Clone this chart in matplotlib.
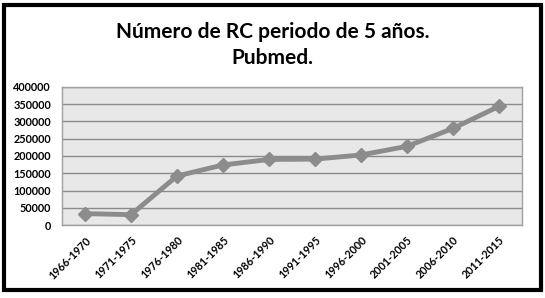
import matplotlib
matplotlib.use("Agg")
import matplotlib.pyplot as plt
from matplotlib.patches import Rectangle

categories = ["1966-1970", "1971-1975", "1976-1980", "1981-1985", "1986-1990",
              "1991-1995", "1996-2000", "2001-2005", "2006-2010", "2011-2015"]
values = [33000, 30000, 142000, 174000, 190000, 191000, 203000, 228000, 280000, 344000]
yticks = [0, 50000, 100000, 150000, 200000, 250000, 300000, 350000, 400000]

plt.rcParams['font.family'] = ['Lato', 'DejaVu Sans']

W, H = 545, 298
fig = plt.figure(figsize=(W/100, H/100), dpi=100)
fig.patch.set_facecolor('white')

# black frame
fig.add_artist(Rectangle((3.5/W, 8/H), (W-8)/W, (H-13)/H, transform=fig.transFigure,
                         fill=False, edgecolor='black', linewidth=3))

ax = fig.add_axes([62/W, 1-225/H, 460/W, 138/H])
ax.set_facecolor('#e8e8e8')
x = list(range(len(categories)))
ax.plot(x, values, color='#8c8c8c', linewidth=3.5, marker='D', markersize=7,
        markerfacecolor='#8c8c8c', markeredgecolor='#8c8c8c', zorder=3)
ax.set_xlim(-0.5, len(categories) - 0.5)
ax.set_ylim(0, 400000)
ax.set_yticks(yticks)
ax.set_yticklabels([str(v) for v in yticks], fontsize=7.8, fontweight='bold')
ax.set_xticks(x)
ax.set_xticklabels(categories, rotation=45, ha='right', rotation_mode='anchor',
                   fontsize=7.8, fontweight='bold')
ax.grid(axis='y', color='#8a8a8a', linewidth=1)
ax.set_axisbelow(True)
for s in ax.spines.values():
    s.set_color('#a0a0a0')
    s.set_linewidth(1)
ax.tick_params(axis='y', length=0, pad=8)
ax.tick_params(axis='x', length=0, pad=7)

fig.text(0.5, 1-45/H, "Número de RC periodo de 5 años.\nPubmed.", ha='center', va='center',
         fontsize=15, fontweight='bold', linespacing=1.35)

fig.savefig("out.png", dpi=100)
